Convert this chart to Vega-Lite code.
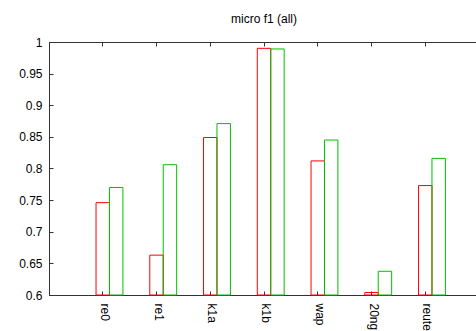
{
  "$schema": "https://vega.github.io/schema/vega-lite/v6.json",
  "width": 430,
  "height": 253,
  "padding": {"left": 18, "top": 13, "right": 0, "bottom": 0},
  "background": "white",
  "title": {"text": "micro f1 (all)", "font": "Liberation Sans", "fontSize": 12, "fontWeight": "normal", "color": "#000", "offset": 10},
  "data": {"values": [
    {"dataset": "re0", "run": "A", "f1": 0.746},
    {"dataset": "re0", "run": "B", "f1": 0.770},
    {"dataset": "re1", "run": "A", "f1": 0.663},
    {"dataset": "re1", "run": "B", "f1": 0.806},
    {"dataset": "k1a", "run": "A", "f1": 0.849},
    {"dataset": "k1a", "run": "B", "f1": 0.871},
    {"dataset": "k1b", "run": "A", "f1": 0.990},
    {"dataset": "k1b", "run": "B", "f1": 0.989},
    {"dataset": "wap", "run": "A", "f1": 0.812},
    {"dataset": "wap", "run": "B", "f1": 0.845},
    {"dataset": "20ng", "run": "A", "f1": 0.604},
    {"dataset": "20ng", "run": "B", "f1": 0.6375},
    {"dataset": "reuters", "run": "A", "f1": 0.773},
    {"dataset": "reuters", "run": "B", "f1": 0.816}
  ]},
  "config": {
    "view": {"stroke": "#333", "strokeWidth": 1},
    "axis": {"labelFont": "Liberation Sans", "labelFontSize": 12, "labelColor": "#000", "domainColor": "#333", "tickColor": "#333", "grid": false, "title": null}
  },
  "resolve": {"axis": {"x": "independent", "y": "independent"}},
  "layer": [
    {
      "mark": {"type": "bar", "filled": false, "strokeWidth": 1},
      "encoding": {
        "x": {"field": "dataset", "type": "nominal", "sort": null,
              "scale": {"paddingInner": 0, "paddingOuter": 0.5},
              "axis": {"labelAngle": 90, "labelPadding": 12, "tickSize": -4, "labelBaseline": "middle", "labelAlign": "left", "labelOffset": 2}},
        "xOffset": {"field": "run", "type": "nominal", "scale": {"domain": ["A", "B"], "paddingInner": 0, "paddingOuter": 1, "align": 0.75}},
        "y": {"field": "f1", "type": "quantitative", "scale": {"domain": [0.6, 1], "zero": false, "nice": false},
              "axis": {"values": [0.6, 0.65, 0.7, 0.75, 0.8, 0.85, 0.9, 0.95, 1], "format": "~g", "tickSize": -4, "labelPadding": 11}},
        "y2": {"datum": 0.6},
        "color": {"field": "run", "type": "nominal", "scale": {"domain": ["A", "B"], "range": ["#ff0000", "#00c000"]}, "legend": null}
      }
    },
    {
      "mark": {"type": "point", "opacity": 0},
      "encoding": {
        "x": {"field": "dataset", "type": "nominal", "sort": null,
              "axis": {"orient": "top", "labels": false, "tickSize": -4, "domain": true}},
        "y": {"field": "f1", "type": "quantitative", "axis": null}
      }
    }
  ]
}
